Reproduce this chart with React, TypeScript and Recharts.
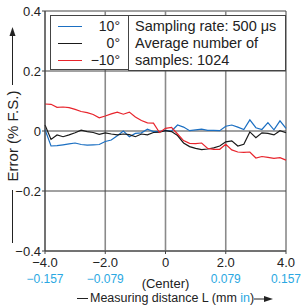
import React from 'react';
import { LineChart, Line, XAxis, YAxis, ReferenceLine, ReferenceArea, Label } from 'recharts';

const xs = [-4, -3.8, -3.6, -3.4, -3.2, -3, -2.8, -2.6, -2.4, -2.2, -2, -1.8, -1.6, -1.4, -1.2, -1, -0.8, -0.6, -0.4, -0.2, 0, 0.2, 0.4, 0.6, 0.8, 1, 1.2, 1.4, 1.6, 1.8, 2, 2.2, 2.4, 2.6, 2.8, 3, 3.2, 3.4, 3.6, 3.8, 4];
const blue10 = [0.005, -0.05, -0.049, -0.046, -0.043, -0.04, -0.045, -0.047, -0.046, -0.045, -0.035, -0.03, -0.016, 0.0, -0.019, -0.008, -0.006, 0.006, -0.002, -0.002, 0.002, 0.0, 0.02, 0.013, 0.001, 0.004, 0.006, 0.002, 0.002, 0.001, 0.016, 0.02, 0.013, 0.005, 0.037, 0.011, 0.005, 0.028, 0.004, 0.034, 0.009];
const black0 = [0.02, -0.028, -0.013, -0.019, -0.013, -0.006, 0.003, -0.002, -0.005, -0.011, -0.006, -0.01, -0.013, -0.01, -0.012, -0.019, -0.01, -0.013, -0.005, -0.004, 0.001, -0.002, -0.015, -0.04, -0.052, -0.058, -0.062, -0.06, -0.056, -0.05, -0.036, -0.033, -0.05, -0.044, -0.003, -0.022, -0.006, -0.008, -0.013, 0.001, -0.006];
const redM10 = [0.09, 0.089, 0.079, 0.08, 0.078, 0.072, 0.065, 0.061, 0.055, 0.044, 0.05, 0.057, 0.063, 0.056, 0.063, 0.047, 0.035, 0.027, 0.026, -0.005, 0.009, 0.012, -0.01, -0.032, -0.041, -0.042, -0.04, -0.058, -0.061, -0.061, -0.044, -0.063, -0.07, -0.071, -0.07, -0.09, -0.085, -0.088, -0.091, -0.089, -0.097];

const xTicks = [-4, -2, 0, 2, 4];
const xTickMm = ['−4.0', '−2.0', '0', '2.0', '4.0'];
const xTickIn = ['−0.157', '−0.079', '', '0.079', '0.157'];
const yTicks = [-0.4, -0.2, 0, 0.2, 0.4];
const yTickLabels = ['−0.4', '−0.2', '0', '0.2', '0.4'];
const legendItems = [
  { label: '10°', color: '#1b6fc2' },
  { label: '0°', color: '#1a1a1a' },
  { label: '−10°', color: '#e8242c' },
];
const infoLines = ['Sampling rate: 500 μs', 'Average number of', 'samples: 1024'];

const data = xs.map((x, i) => ({ x, blue: blue10[i], black: black0[i], red: redM10[i] }));

const FONT = '"Liberation Sans", Arial, Helvetica, sans-serif';
const INCH = '#2aa8e2';
const TEXT = '#222';

const XTick = (props: any) => {
  const { x, y, payload } = props;
  const i = xTicks.indexOf(payload.value);
  return (
    <g fontFamily={FONT}>
      <text x={x} y={y + 11} textAnchor="middle" fontSize={13} fill={TEXT}>{xTickMm[i]}</text>
      {xTickIn[i] ? (
        <text x={x} y={y + 27} textAnchor="middle" fontSize={12} fill={INCH}>{xTickIn[i]}</text>
      ) : null}
      {payload.value === 0 ? (
        <text x={x} y={y + 32} textAnchor="middle" fontSize={13} fill={TEXT}>(Center)</text>
      ) : null}
    </g>
  );
};

const YTitle = () => (
  <g fontFamily={FONT}>
    <text x={12} y={136} transform="rotate(-90 12 136)" textAnchor="middle" dominantBaseline="central" fontSize={15} fill={TEXT}>Error (% F.S.)</text>
    <line x1={12.5} y1={85} x2={12.5} y2={34} stroke={TEXT} strokeWidth={1} />
    <polygon points="12.5,27 9.5,36 15.5,36" fill={TEXT} />
    <line x1={12.5} y1={190} x2={12.5} y2={243} stroke={TEXT} strokeWidth={1} />
  </g>
);

const XTitle = () => (
  <g fontFamily={FONT}>
    <line x1={77} y1={298.5} x2={88} y2={298.5} stroke={TEXT} strokeWidth={1} />
    <text x={90} y={302} fontSize={12.5} fill={TEXT}>
      Measuring distance L (mm <tspan fill={INCH}>in</tspan>)
    </text>
    <line x1={254} y1={299} x2={266} y2={299} stroke={TEXT} strokeWidth={1} />
    <polygon points="273,299 264,296 264,302" fill={TEXT} />
  </g>
);

export default function App() {
  return (
    <div style={{ position: 'absolute', left: 0, top: 0, width: 302, height: 305, background: '#fff' }}>
      <LineChart width={302} height={305} data={data} margin={{ top: 11, right: 16, left: 0, bottom: 0 }}>
        <XAxis
          type="number"
          dataKey="x"
          domain={[-4, 4]}
          ticks={xTicks}
          tick={<XTick />}
          tickSize={3}
          tickMargin={2}
          height={54}
          stroke="#444"
          axisLine={{ stroke: '#444' }}
          tickLine={{ stroke: '#444' }}
          interval={0}
        >
          <Label content={<XTitle />} />
        </XAxis>
        <YAxis
          type="number"
          domain={[-0.4, 0.4]}
          ticks={yTicks}
          tickFormatter={(v: number) => yTickLabels[yTicks.indexOf(v)] ?? String(v)}
          tick={{ fontSize: 13, fill: TEXT, fontFamily: FONT }}
          tickSize={3}
          tickMargin={1}
          width={45}
          stroke="#444"
          interval={0}
          allowDataOverflow
        >
          <Label content={<YTitle />} />
        </YAxis>
        <ReferenceLine x={-2} stroke="#8a8a8a" strokeWidth={1.6} />
        <ReferenceLine x={0} stroke="#8a8a8a" strokeWidth={1.6} />
        <ReferenceLine x={2} stroke="#8a8a8a" strokeWidth={1.6} />
        <ReferenceLine y={0.2} stroke="#444" strokeWidth={1} />
        <ReferenceLine y={0} stroke="#444" strokeWidth={1} />
        <ReferenceLine y={-0.2} stroke="#444" strokeWidth={1} />
        <ReferenceArea x1={-4} x2={4} y1={-0.4} y2={0.4} fill="none" stroke="#444" strokeWidth={1} ifOverflow="visible" />
        <Line type="linear" dataKey="blue" stroke="#1b6fc2" strokeWidth={1.2} dot={false} isAnimationActive={false} />
        <Line type="linear" dataKey="black" stroke="#1a1a1a" strokeWidth={1.2} dot={false} isAnimationActive={false} />
        <Line type="linear" dataKey="red" stroke="#e8242c" strokeWidth={1.2} dot={false} isAnimationActive={false} />
      </LineChart>
      <div style={{ position: 'absolute', left: 50, top: 15, width: 79, height: 55, boxSizing: 'border-box', border: '1px solid #444', background: '#fff', fontFamily: FONT, fontSize: 14, color: TEXT }}>
        {legendItems.map((it, i) => (
          <div key={i} style={{ position: 'absolute', left: 0, top: 2 + i * 17, width: 77, height: 17 }}>
            <div style={{ position: 'absolute', left: 7, top: 8, width: 24, height: 0, borderTop: `1.4px solid ${it.color}` }} />
            <div style={{ position: 'absolute', right: 8, top: 0, lineHeight: '17px', whiteSpace: 'nowrap' }}>{it.label}</div>
          </div>
        ))}
      </div>
      <div style={{ position: 'absolute', left: 128, top: 15, width: 158, height: 56, boxSizing: 'border-box', border: '1px solid #444', background: '#fff', fontFamily: FONT, fontSize: 14.5, color: TEXT, padding: '2px 0 0 6px', lineHeight: '17px', whiteSpace: 'nowrap' }}>
        {infoLines.map((t, i) => (
          <div key={i}>{t}</div>
        ))}
      </div>
    </div>
  );
}
